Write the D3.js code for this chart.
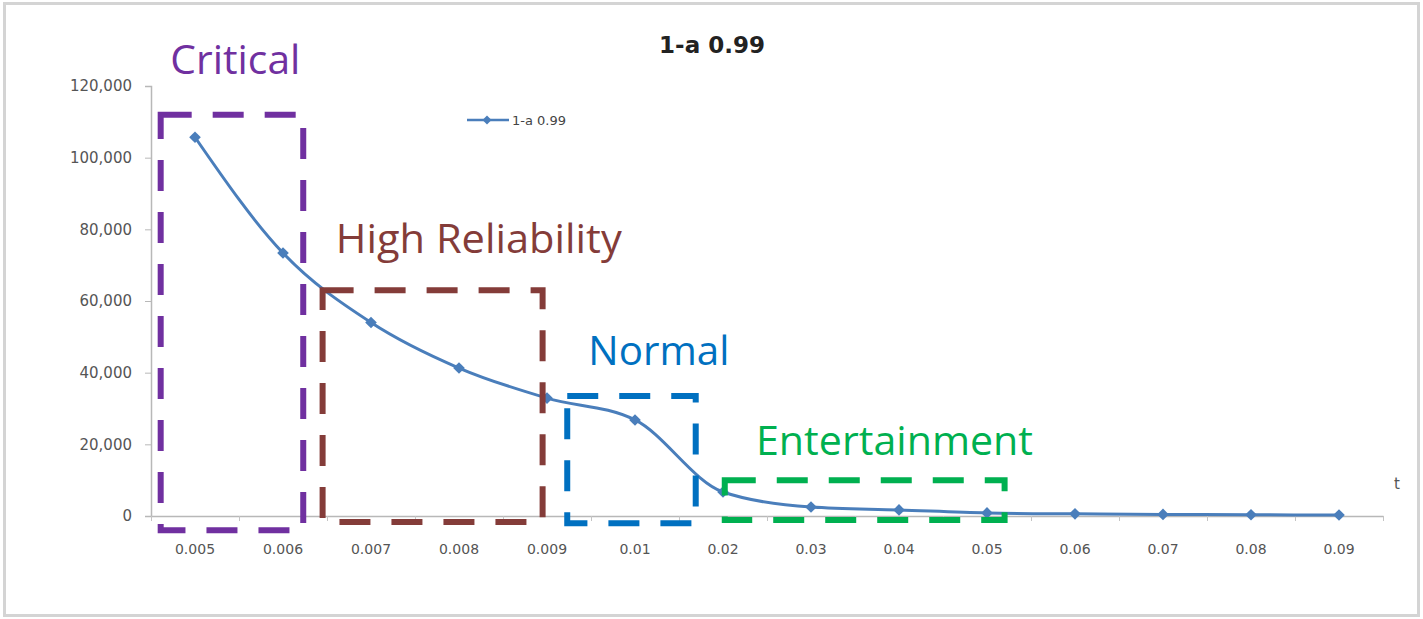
<!DOCTYPE html>
<html>
<head>
<meta charset="utf-8">
<script src="https://cdn.jsdelivr.net/npm/d3@7"></script>
<style>
  body { margin: 0; background: #fff; }
  .tick-label { font-family: 'DejaVu Sans', sans-serif; fill: #555; }
  .zone-label { font-family: 'Open Sans', sans-serif; }
</style>
</head>
<body>
<svg id="chart" width="1423" height="619"></svg>
<script>
const categories = ['0.005', '0.006', '0.007', '0.008', '0.009', '0.01', '0.02',
  '0.03', '0.04', '0.05', '0.06', '0.07', '0.08', '0.09']
const values = [105700, 73400, 54000, 41300, 32900, 26800, 6700,
  2500, 1700, 850, 600, 450, 350, 280]
const yTicks = [0, 20000, 40000, 60000, 80000, 100000, 120000]
const seriesName = '1-a 0.99'

// annotation zones, in category-index / value units
const zoneNames = ['Critical', 'High Reliability', 'Normal', 'Entertainment']
const zoneColors = ['#7030a0', '#843c39', '#0070c0', '#00b050']
const zoneFrom = [-0.39, 1.45, 4.23, 6.02]
const zoneTo = [1.23, 3.95, 5.69, 9.2]
const zoneTop = [112000, 63000, 33500, 10000]
const zoneBottom = [-4000, -1700, -2000, -1100]
const zoneLabelX = [-0.28, 1.6, 4.47, 6.375]
const zoneLabelY = [123300, 73400, 42100, 17000]
const zoneLabelWidth = [130, 286, 141, 277]

;(function (d3) {
  'use strict'
  const svg = d3.select('#chart')
  const width = +svg.attr('width')
  const height = +svg.attr('height')

  const margin = { top: 86, right: 40, bottom: 103, left: 151 }
  const innerWidth = width - margin.left - margin.right
  const innerHeight = height - margin.top - margin.bottom

  // outer frame
  svg.append('rect').
    attr('x', 4.5).attr('y', 3.5).
    attr('width', width - 9).attr('height', height - 7).
    attr('fill', '#fff').attr('stroke', '#d4d4d4').attr('stroke-width', 3)

  const g = svg.append('g').
    attr('transform', `translate(${margin.left}, ${margin.top})`)

  const xScale = d3.scaleBand().domain(categories).range([0, innerWidth])
  const xIndex = d3.scaleLinear().
    domain([-0.5, categories.length - 0.5]).range([0, innerWidth])
  const yScale = d3.scaleLinear().domain([0, 120000]).range([innerHeight, 0])

  // y axis
  const yAxis = d3.axisLeft(yScale).tickValues(yTicks).tickSize(6).
    tickPadding(13).tickFormat(d3.format(','))
  const yAxisG = g.append('g').call(yAxis)
  yAxisG.select('.domain').attr('stroke', '#b8b8b8').attr('stroke-width', 1.5)
  yAxisG.selectAll('.tick line').attr('stroke', '#b8b8b8')
  yAxisG.selectAll('.tick text').attr('class', 'tick-label').
    style('font-size', '15px')

  // x axis: labels under the bands, tick marks on the band edges
  const xAxis = d3.axisBottom(xScale).tickSize(0).tickPadding(28)
  const xAxisG = g.append('g').
    attr('transform', `translate(0, ${innerHeight})`).call(xAxis)
  xAxisG.select('.domain').attr('stroke', '#b8b8b8').attr('stroke-width', 1.5)
  xAxisG.selectAll('.tick text').attr('class', 'tick-label').
    style('font-size', '14px')

  const edges = d3.range(categories.length + 1).map(i => i - 0.5)
  const edgeAxis = d3.axisBottom(xIndex).tickValues(edges).
    tickSize(5).tickFormat('')
  const edgeG = g.append('g').
    attr('transform', `translate(0, ${innerHeight})`).call(edgeAxis)
  edgeG.select('.domain').remove()
  edgeG.selectAll('.tick line').attr('stroke', '#c4c4c4')

  g.append('text').
    attr('class', 'tick-label').
    attr('x', innerWidth + 11).attr('y', innerHeight - 27).
    style('font-size', '15px').
    text('t')

  // series
  const points = categories.map((c, i) => ({ c, v: values[i] }))
  const lineGenerator = d3.line().
    x(d => xScale(d.c) + xScale.bandwidth() / 2).
    y(d => yScale(d.v)).
    curve(d3.curveMonotoneX)

  g.append('path').
    datum(points).
    attr('d', lineGenerator).
    attr('fill', 'none').
    attr('stroke', '#4a7ebb').
    attr('stroke-width', 3)

  const diamond = d3.symbol().type(d3.symbolSquare).size(68)
  g.selectAll('.marker').
    data(points).
    enter().
    append('path').
    attr('class', 'marker').
    attr('d', diamond).
    attr('fill', '#4a7ebb').
    attr('transform', d =>
      `translate(${xScale(d.c) + xScale.bandwidth() / 2}, ${yScale(d.v)}) rotate(45)`)

  // legend
  const legend = svg.append('g').attr('transform', 'translate(467, 120)')
  legend.append('line').
    attr('x1', 0).attr('x2', 42).
    attr('stroke', '#4a7ebb').attr('stroke-width', 2.5)
  legend.append('path').
    attr('d', d3.symbol().type(d3.symbolSquare).size(40)).
    attr('fill', '#4a7ebb').
    attr('transform', 'translate(20, 0) rotate(45)')
  legend.append('text').
    attr('x', 45).attr('y', 5).
    attr('class', 'tick-label').
    style('font-size', '13px').style('fill', '#444').
    text(seriesName)

  // title
  svg.append('text').
    attr('x', 712).attr('y', 53).
    attr('text-anchor', 'middle').
    style('font-family', "'DejaVu Sans', sans-serif").
    style('font-weight', 'bold').
    style('font-size', '23px').
    style('fill', '#222').
    text(seriesName)

  // annotation zones
  const zones = zoneNames.map((name, i) => ({
    name, color: zoneColors[i],
    x0: zoneFrom[i], x1: zoneTo[i], top: zoneTop[i], bottom: zoneBottom[i],
    lx: zoneLabelX[i], ly: zoneLabelY[i], lw: zoneLabelWidth[i],
  }))

  g.selectAll('.zone').
    data(zones).
    enter().
    append('rect').
    attr('class', 'zone').
    attr('x', d => xIndex(d.x0)).
    attr('y', d => yScale(d.top)).
    attr('width', d => xIndex(d.x1) - xIndex(d.x0)).
    attr('height', d => yScale(d.bottom) - yScale(d.top)).
    attr('fill', 'none').
    attr('stroke', d => d.color).
    attr('stroke-width', 6).
    attr('stroke-dasharray', '31 21')

  g.selectAll('.zone-label').
    data(zones).
    enter().
    append('text').
    attr('class', 'zone-label').
    attr('x', d => xIndex(d.lx)).
    attr('y', d => yScale(d.ly)).
    attr('textLength', d => d.lw).
    attr('lengthAdjust', 'spacingAndGlyphs').
    style('font-size', '41px').
    style('fill', d => d.color).
    text(d => d.name)
}(d3))
</script>
</body>
</html>
